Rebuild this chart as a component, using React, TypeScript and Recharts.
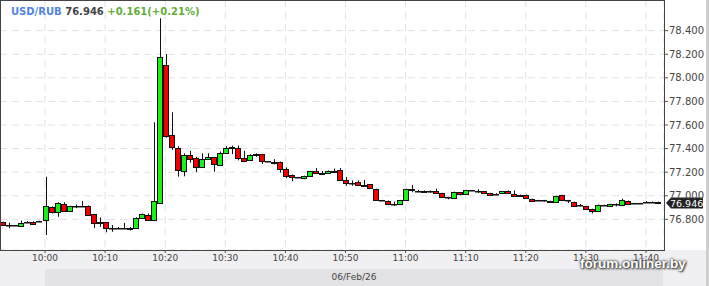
import {
  ComposedChart,
  Bar,
  XAxis,
  YAxis,
  CartesianGrid,
  ReferenceLine,
} from "recharts";

// minutes after 10:00, one candle each
const MINUTES = [
  -7, -6, -5, -4, -3, -2, -1, 0, 1, 2, 3, 4, 5, 6, 7, 8, 9, 10, 11, 12, 13, 14,
  15, 16, 17, 18, 19, 20, 21, 22, 23, 24, 25, 26, 27, 28, 29, 30, 31, 32, 33,
  34, 35, 36, 37, 38, 39, 40, 41, 42, 43, 44, 45, 46, 47, 48, 49, 50, 51, 52,
  53, 54, 55, 56, 57, 58, 59, 60, 61, 62, 63, 64, 65, 66, 67, 68, 69, 70, 71,
  72, 73, 74, 75, 76, 77, 78, 79, 80, 81, 82, 83, 84, 85, 86, 87, 88, 89, 90,
  91, 92, 93, 94, 95, 96, 97, 98, 99, 100, 101, 102,
];

const OPEN = [
  76.775, 76.749, 76.749, 76.741, 76.778, 76.78, 76.786, 76.792, 76.902, 76.86,
  76.928, 76.872, 76.911, 76.913, 76.916, 76.843, 76.766, 76.775, 76.724,
  76.728, 76.729, 76.73, 76.724, 76.809, 76.838, 76.792, 76.945, 78.107,
  77.513, 77.403, 77.207, 77.343, 77.318, 77.241, 77.309, 77.326, 77.258,
  77.36, 77.403, 77.403, 77.318, 77.301, 77.343, 77.352, 77.292, 77.29,
  77.284, 77.224, 77.174, 77.157, 77.148, 77.165, 77.207, 77.191, 77.191,
  77.207, 77.216, 77.131, 77.106, 77.114, 77.089, 77.097, 77.055, 76.964,
  76.953, 76.928, 76.928, 76.962, 77.055, 77.038, 77.04, 77.035, 77.038,
  77.021, 76.987, 76.978, 77.029, 77.012, 77.046, 77.04, 77.038, 77.021,
  77.015, 77.021, 77.038, 77.012, 77.004, 77.004, 76.97, 76.96, 76.962,
  76.955, 76.945, 77.004, 76.962, 76.945, 76.92, 76.911, 76.885, 76.868,
  76.919, 76.911, 76.928, 76.919, 76.956, 76.935, 76.937, 76.942, 76.945,
  76.941,
];

const HIGH = [
  76.78, 76.772, 76.752, 76.79, 76.785, 76.783, 76.788, 77.162, 76.91, 76.945,
  76.945, 76.915, 76.925, 76.955, 76.918, 76.846, 76.817, 76.778, 76.752,
  76.735, 76.77, 76.735, 76.818, 76.85, 76.85, 77.623, 78.505, 78.202, 77.708,
  77.42, 77.36, 77.38, 77.33, 77.36, 77.36, 77.33, 77.375, 77.42, 77.425,
  77.425, 77.382, 77.352, 77.36, 77.355, 77.295, 77.31, 77.29, 77.24, 77.18,
  77.16, 77.17, 77.21, 77.235, 77.21, 77.215, 77.23, 77.235, 77.16, 77.13,
  77.13, 77.135, 77.1, 77.06, 76.965, 76.96, 76.95, 76.965, 77.06, 77.091,
  77.05, 77.045, 77.045, 77.06, 77.025, 76.99, 77.035, 77.03, 77.05, 77.048,
  77.055, 77.04, 77.025, 77.022, 77.04, 77.045, 77.046, 77.01, 77.01, 76.975,
  76.965, 76.965, 76.958, 77.0, 77.008, 76.965, 76.95, 76.93, 76.915, 76.89,
  76.925, 76.925, 76.932, 76.935, 76.975, 76.96, 76.94, 76.94, 76.955,
  76.952, 76.95,
];

const LOW = [
  76.745, 76.725, 76.745, 76.738, 76.775, 76.758, 76.783, 76.667, 76.85,
  76.822, 76.865, 76.862, 76.895, 76.905, 76.838, 76.725, 76.737, 76.69,
  76.695, 76.72, 76.725, 76.705, 76.72, 76.805, 76.785, 76.785, 76.94, 77.492,
  77.388, 77.162, 77.165, 77.28, 77.2, 77.235, 77.305, 77.204, 77.255, 77.355,
  77.352, 77.3, 77.285, 77.295, 77.33, 77.27, 77.285, 77.265, 77.196, 77.148,
  77.123, 77.15, 77.14, 77.16, 77.185, 77.18, 77.185, 77.195, 77.125, 77.085,
  77.085, 77.085, 77.08, 77.06, 76.955, 76.958, 76.925, 76.915, 76.925,
  76.958, 77.03, 77.03, 77.03, 77.025, 77.015, 76.985, 76.97, 76.975, 77.005,
  77.01, 77.04, 77.025, 77.015, 77.0, 77.01, 77.018, 77.018, 76.995, 76.99,
  76.975, 76.95, 76.955, 76.952, 76.943, 76.943, 76.955, 76.94, 76.905, 76.91,
  76.88, 76.85, 76.865, 76.915, 76.905, 76.91, 76.915, 76.925, 76.93, 76.932,
  76.94, 76.94, 76.94,
];

const CLOSE = [
  76.749, 76.749, 76.749, 76.766, 76.78, 76.766, 76.785, 76.911, 76.86, 76.936,
  76.872, 76.911, 76.913, 76.916, 76.843, 76.766, 76.775, 76.724, 76.726,
  76.729, 76.73, 76.724, 76.809, 76.843, 76.792, 76.953, 78.179, 77.509,
  77.411, 77.216, 77.343, 77.309, 77.241, 77.309, 77.326, 77.267, 77.36,
  77.403, 77.411, 77.318, 77.292, 77.343, 77.352, 77.292, 77.29, 77.284,
  77.224, 77.165, 77.157, 77.153, 77.165, 77.207, 77.191, 77.196, 77.207,
  77.213, 77.131, 77.106, 77.105, 77.089, 77.094, 77.063, 76.964, 76.962,
  76.928, 76.93, 76.962, 77.055, 77.046, 77.04, 77.035, 77.038, 77.021,
  76.987, 76.984, 77.029, 77.015, 77.046, 77.043, 77.038, 77.021, 77.004,
  77.018, 77.038, 77.021, 76.998, 76.995, 76.978, 76.953, 76.962, 76.958,
  76.95, 76.995, 76.962, 76.958, 76.911, 76.918, 76.885, 76.868, 76.919,
  76.921, 76.928, 76.93, 76.964, 76.931, 76.937, 76.936, 76.945, 76.942,
  76.946,
];

const TICK_MINUTES = [0, 10, 20, 30, 40, 50, 60, 70, 80, 90, 100];
const TICK_LABELS = [
  "10:00", "10:10", "10:20", "10:30", "10:40", "10:50",
  "11:00", "11:10", "11:20", "11:30", "11:40",
];
const PRICE_TICKS = [76.8, 77.0, 77.2, 77.4, 77.6, 77.8, 78.0, 78.2, 78.4];

const SYMBOL = "USD/RUB";
const LAST = 76.946;
const CHANGE = "+0.161(+0.21%)";
const DATE_LABEL = "06/Feb/26";

const rows = MINUTES.map((m, i) => ({
  m,
  open: OPEN[i],
  high: HIGH[i],
  low: LOW[i],
  close: CLOSE[i],
  range: [LOW[i], HIGH[i]],
}));

const Candle = (props: any) => {
  const { x, y, width, height, payload } = props;
  if (x == null || y == null) return null;
  const { open, close, high, low } = payload;
  const top = Math.min(y, y + height);
  const span = Math.abs(height);
  const toY = (v: number) =>
    high === low ? top : top + ((high - v) / (high - low)) * span;
  const p = Math.round(x + width / 2);
  const yo = toY(open);
  const yc = toY(close);
  const bTop = Math.round(Math.min(yo, yc)) + 0.5;
  const bH = Math.max(Math.round(Math.abs(yo - yc)), 0.5);
  const up = close >= open;
  return (
    <g>
      <line x1={p + 0.5} x2={p + 0.5} y1={top} y2={top + span} stroke="#111" />
      <rect
        x={p - 2.5}
        y={bTop}
        width={5}
        height={bH}
        fill={up ? "#1cf01c" : "#f20000"}
        stroke="#111"
      />
    </g>
  );
};

// black arrow tag with the last price, on the price axis
const PriceTag = (props: any) => {
  const vb = props.viewBox;
  if (!vb) return null;
  const x0 = vb.x + vb.width + 2;
  const y = vb.y + 1;
  return (
    <g>
      <path
        d={`M${x0},${y} L${x0 + 5},${y - 5.5} L${x0 + 37},${y - 5.5} L${x0 + 37},${y + 5.5} L${x0 + 5},${y + 5.5} Z`}
        fill="#222"
      />
      <text
        x={x0 + 4}
        y={y + 3.5}
        fill="#fff"
        fontSize={9.5}
        fontFamily="DejaVu Sans"
      >
        {LAST.toFixed(3)}
      </text>
    </g>
  );
};

export default function App() {
  return (
    <div
      style={{
        position: "absolute",
        left: 0,
        top: 0,
        width: 709,
        height: 286,
        background: "#fff",
        overflow: "hidden",
      }}
    >
      {/* bottom strip and date band */}
      <div style={{ position: "absolute", left: 0, top: 250, width: 706, height: 36, background: "#f0f0f2" }} />
      <div
        style={{
          position: "absolute",
          left: 45,
          top: 269,
          width: 618,
          height: 17,
          background: "#e3e3e5",
          color: "#444",
          fontFamily: "DejaVu Sans",
          fontSize: 9,
          lineHeight: "17px",
          textAlign: "center",
        }}
      >
        {DATE_LABEL}
      </div>
      <div style={{ position: "absolute", left: 706, top: 0, width: 3, height: 286, background: "#cfcfcf" }} />

      <div style={{ position: "absolute", left: 0, top: 0 }}>
        <ComposedChart
          width={709}
          height={286}
          data={rows}
          margin={{ top: 0, right: 0, bottom: 0, left: 0 }}
        >
          <CartesianGrid stroke="#e2e2e2" strokeDasharray="7 5" />
          <XAxis
            dataKey="m"
            type="number"
            domain={[-7.49, 103]}
            allowDataOverflow
            ticks={TICK_MINUTES}
            tickFormatter={(v: number) => TICK_LABELS[TICK_MINUTES.indexOf(v)]}
            height={36}
            axisLine={false}
            tickLine={{ stroke: "#555" }}
            tickSize={3}
            tick={{ fontSize: 9, fill: "#444", fontFamily: "DejaVu Sans" }}
          />
          <YAxis
            orientation="right"
            type="number"
            domain={[76.54, 78.66]}
            allowDataOverflow
            ticks={PRICE_TICKS}
            tickFormatter={(v: number) => v.toFixed(3)}
            width={45}
            axisLine={false}
            tickLine={{ stroke: "#555" }}
            tickSize={4}
            tickMargin={1}
            tick={{ fontSize: 10, fill: "#444", fontFamily: "DejaVu Sans", textAnchor: "start" }}
          />
          <Bar
            dataKey="range"
            barSize={5}
            isAnimationActive={false}
            shape={(p: any) => <Candle {...p} />}
          />
          <ReferenceLine
            y={LAST}
            stroke="none"
            ifOverflow="visible"
            label={<PriceTag />}
          />
        </ComposedChart>
      </div>

      {/* plot frame */}
      <div
        style={{
          position: "absolute",
          left: 0,
          top: 0,
          width: 665,
          height: 251,
          border: "1px solid #444",
          boxSizing: "border-box",
          pointerEvents: "none",
        }}
      />

      <div
        style={{
          position: "absolute",
          left: 11,
          top: 5,
          lineHeight: "14px",
          fontFamily: "DejaVu Sans",
          fontWeight: "bold",
          fontSize: 10,
          whiteSpace: "nowrap",
        }}
      >
        <span style={{ color: "#4f83e8" }}>{SYMBOL}</span>{" "}
        <span style={{ color: "#444" }}>{LAST.toFixed(3)}</span>{" "}
        <span style={{ color: "#64ad3a" }}>{CHANGE}</span>
      </div>

      <div
        style={{
          position: "absolute",
          left: 580,
          top: 256,
          fontFamily: "Liberation Sans",
          fontWeight: "bold",
          fontSize: 13.5,
          color: "#fff",
          textShadow: "0 0 3px #444, 0 0 2px #444, 1px 1px 2px #333",
          whiteSpace: "nowrap",
        }}
      >
        forum.onliner.by
      </div>
    </div>
  );
}
